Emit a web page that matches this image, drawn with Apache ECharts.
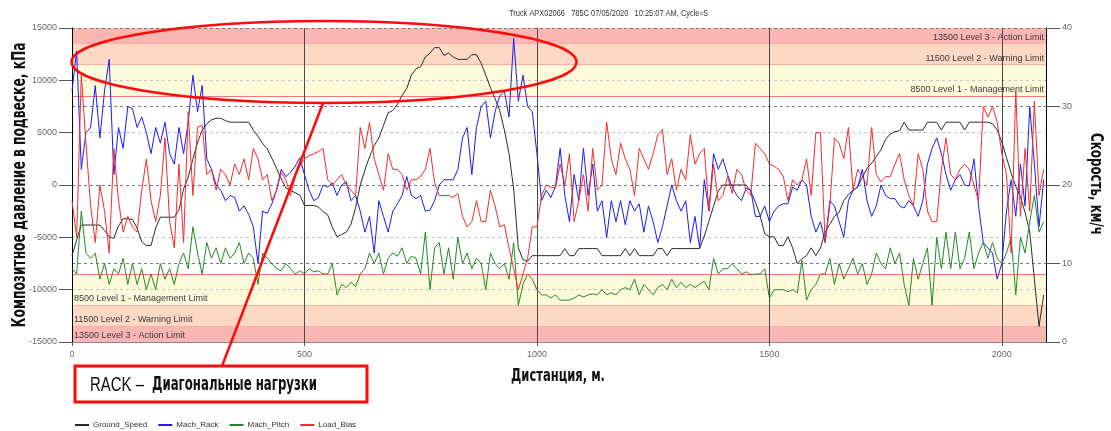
<!DOCTYPE html>
<html>
<head>
<meta charset="utf-8">
<script src="https://cdn.jsdelivr.net/npm/echarts/dist/echarts.min.js"></script>
<style>
  html, body { margin: 0; padding: 0; background: #ffffff; }
  #chart { width: 1111px; height: 431px; }
</style>
</head>
<body>
<div id="chart"></div>
<script>
// Samples are taken every 10 m along the haul road, starting at 0 m.
const STEP_M = 10;

// Ground speed, km/h (right axis)
const groundSpeed = [
  11, 13, 14.9, 14.9, 14.9, 14.9, 14.9, 14.2, 13.4, 13.2,
  14.8, 15.7, 15.7, 15.6, 14.5, 12.8, 12.3, 12.3, 14.5, 15.9,
  15.9, 15.9, 15.9, 16.8, 19.5, 21, 23.3, 25.4, 27, 27.8,
  28.3, 28.5, 28.5, 28.2, 28, 28, 28, 28, 28, 27,
  26.2, 25.3, 24.6, 23.4, 22.1, 20.8, 19.6, 19.3, 19, 18.7,
  17.4, 17.4, 17.4, 17.2, 16.6, 16.2, 14.6, 13.4, 13.7, 14,
  15, 17.1, 20, 21.9, 23.6, 25, 26, 27.6, 29.2, 29.5,
  30.3, 31.4, 32.3, 34, 34.8, 35.1, 36.3, 36.8, 37.5, 37.5,
  36.5, 36.8, 36.3, 36, 36, 36, 36.6, 36.6, 35.5, 34,
  32.4, 31, 29.5, 27, 24, 19.5, 12, 10.5, 10.3, 11,
  11, 11, 11, 11, 11, 11, 11.9, 11, 11, 11.9,
  11.9, 11.9, 11.9, 11.9, 11, 11, 11, 11, 11, 11.9,
  11, 11.9, 11, 11, 11, 11, 11.9, 11.9, 11, 11.9,
  11.9, 11.9, 11.9, 11.9, 11.9, 11.9, 13.5, 15.4, 17.3, 19.2,
  20, 20, 20, 20, 20, 20, 19.2, 17.8, 16.1, 13.8,
  13.4, 13.4, 12.3, 12.3, 13.4, 12, 10, 10.6, 11, 12,
  11, 12, 14, 15, 16, 16.5, 18, 18.8, 19.3, 19.8,
  21, 22.1, 22.8, 23.6, 24.5, 25.8, 26.5, 26.8, 26.9, 28,
  27, 27, 27, 27, 28, 28, 28, 27, 28, 28,
  28, 28, 27, 28, 28, 28, 28, 28, 27.8, 27,
  25.5, 23.5, 21.5, 19.8, 18.5, 16.5, 14, 8, 2, 6
];

// Suspension composite pressure, kPa (left axis)
const machRack = [
  9000, 12800, 1500, 5000, 5500, 9500, 4500, 9000, 12000, 1000,
  5500, 3500, 7500, 7300, 5500, 6500, 5000, 3000, 5500, 4000,
  6000, 3000, 2000, 5500, 3000, 6000, 10500, 7000, 9500, 2500,
  1500, 0, -500, -1500, -1000, -1200, -2500, -2000, -2800, -4000,
  -7500, -2500, -2700, -1800, -500, 1500, 800, 1200, 1800, 2600,
  1000, -500, -1500, -1200, 0, -200, 200, -1000, 0, 300,
  -1500, -1000, -2500, -4500, -3000, -6500, -1500, -3000, -4500, -2500,
  -1800, -1000, 800, -1000, -1300, -1000, -2500, -2400, -1500, 0,
  500, 500, 500, 1500, 4500, 5500, 1000, 5500, 7500, 8000,
  4500, 7000, 8500, 9000, 6500, 14000, 8000, 10500, 7500, 7000,
  3000, -1500, -500, -1200, -100, 3500, -1000, -3500, 1000, -1500,
  3500, -1000, 2000, -2500, -1500, -5000, -1500, -3500, -1500, -3800,
  -1500, -2500, -1800, -4500, -2000, -3500, -5500, -4000, -2000, 0,
  -1500, -2500, -1500, -5500, -3000, -6000, 500, -2500, 3000, 1500,
  2500, 1000, -200, -1000, -1500, -300, -500, -3000, -3000, -2000,
  -3500, -2500, -2000, -1800, -1800, -200, -500, 500, 0, -3000,
  -4500, -3500, -5500, -1500, -2000, -3500, -5000, -1500, -500, -200,
  1500, -1500, -3000, -2000, 0, -1000, -1300, -1300, -2000, -2200,
  -1500, -2000, -3000, -1500, 2000, 3500, 4500, 3000, 1000, -500,
  500, 1000, 0, -100, 2500, -2000, -5500, -6000, -6500, -9000,
  -7500, -2500, 500, -3000, 2000, -2000, 7500, 2000, -4000, 500
];

const machPitch = [
  -8000, -8500, -2500, -6500, -7000, -6500, -9000, -7500, -9500, -8000,
  -8500, -7000, -9500, -7500, -9500, -8000, -10000, -8500, -10000, -7500,
  -9000, -8000, -9500, -7500, -6500, -8000, -4000, -6500, -8500, -5500,
  -7000, -6000, -7500, -6000, -7000, -6500, -5500, -7500, -6500, -7000,
  -9500, -6500, -7000, -7500, -8000, -8200, -7500, -8000, -8500, -8200,
  -8500, -8000, -8300, -8200, -8500, -8500, -7500, -10500, -9500, -9800,
  -9300, -9700, -8500, -8000, -6500, -7500, -6500, -8500, -7000, -6500,
  -6800, -6000, -7500, -6800, -7000, -8500, -4500, -10000, -6000, -5500,
  -8500, -6000, -9000, -5000, -7500, -6500, -8000, -7000, -7500, -10000,
  -6500, -7500, -8000, -7500, -9000, -5500, -11500, -9500, -8500, -9000,
  -10000, -10500, -10500, -10800, -10500, -11000, -11000, -11000, -10800, -10500,
  -10700, -10500, -10400, -10500, -10000, -10500, -10300, -10500, -10000, -9800,
  -10000, -9000, -10500, -9500, -10000, -10500, -9800, -9500, -10000, -9000,
  -9800, -9300, -9800, -9500, -9800, -9500, -9200, -10000, -7000, -8500,
  -8000, -8000, -7500, -8000, -8500, -8300, -8600, -8500, -8500, -8000,
  -10800, -10000, -10000, -10000, -10200, -10000, -10300, -7200, -11000, -10000,
  -9500, -8500, -8500, -7000, -9500, -7500, -9000, -8000, -7000, -8500,
  -7500, -9500, -8500, -6500, -7500, -8000, -6000, -7500, -6500, -9500,
  -11500, -7000, -9000, -7500, -6000, -11500, -5000, -8000, -4500, -8000,
  -4500, -8000, -7000, -4500, -8000, -6500, -5500, -7000, -5500, -7000,
  -7500, -6500, -5000, -10500, -5000, -6500, -3500, -1000, -4500, -3500
];

const loadBias = [
  -1500, -5000, 10500, 4000, -2000, -5500, 0, -2500, -6500, 3500,
  -1500, -4500, -3000, -4000, -4500, -500, 2500, -1500, -3500, -1000,
  4500, -3500, -6000, 2000, -5500, 7000, -1000, 5500, 5700, 1000,
  1500, -500, 1500, 1000, 0, 2000, 1000, 2500, 500, 3500,
  2500, 500, 1000, -1500, -500, 1200, 500, -1000, 800, 1800,
  2500, 2800, 3000, 3200, 3500, 500, 0, 500, 1000, 0,
  -500, -1000, 5500, 3500, 6000, 2500, 1000, -500, 3000, 1500,
  1500, 1000, -500, 500, 500, 800, 1500, 3500, 200, -1000,
  -1000, -1000, -1200, -800, -3000, -4000, -3500, -1500, -3500, -3500,
  -500, -2000, -4000, -3800, -6000, -8000, -10000, -8500, -7000, -4000,
  -4000, -1000, 0, -200, -300, 2000, 0, 3000, -3500, -1500,
  1000, -2500, 3500, -500, 0, 6000, 2500, 1000, 4000, 2500,
  1500, -1000, 3500, 2500, 1500, 3000, 4800, 5300, 1000, 2500,
  -500, 1500, 500, 4800, 2000, 3000, 3500, -2500, 2000, -1500,
  -1000, 800, -800, 1500, 1000, -500, -1000, 4000, 3500, 3000,
  2000, 1800, 1500, 800, -1500, 500, 0, 500, 2500, -1000,
  5000, 5000, -5500, -2000, 4500, 4000, 2500, 5500, -500, 1500,
  800, 0, 5500, 1000, 300, 800, 800, 2000, 3000, 500,
  -1000, -2000, 3000, 1500, -2500, -3500, -3500, 1500, 4500, 1000,
  500, 1500, 2000, 1500, 0, -1500, 7500, 6500, 7500, 6000,
  3000, 1000, -6500, 9000, -3000, 3500, -2500, 8000, -1000, 1500
];

// Alarm thresholds, kPa
const limitLevels = [
  { level: 8500,  text: 'Level 1 - Management Limit', fill: 'rgb(254,251,221)' },
  { level: 11500, text: 'Level 2 - Warning Limit',    fill: 'rgb(253,216,197)' },
  { level: 13500, text: 'Level 3 - Action Limit',     fill: 'rgb(250,182,178)' }
];
const PRESSURE_MAX = 15000;

const chartTitle = 'Truck APX02066   785C 07/05/2020   10:25:07 AM, Cycle=5';
const leftName = 'Композитное давление в подвеске, кПа';
const rightName = 'Скорость, км/ч';
const bottomName = 'Дистанция, м.';
const noteLead = 'RACK –';
const noteText = 'Диагональные нагрузки';

const seriesNames = ['Ground_Speed', 'Mach_Rack', 'Mach_Pitch', 'Load_Bias'];
const seriesColors = ['#2b2b2b', '#1c1cf0', '#238a23', '#f42c2c'];

function pairs(values) {
  return values.map((v, i) => [i * STEP_M, v]);
}

const measureCtx = document.createElement('canvas').getContext('2d');
function textWidth(str, font) {
  measureCtx.font = font;
  return measureCtx.measureText(str).width;
}

// Alarm bands above and below zero
const bandAreas = [];
const bandLines = [];
limitLevels.forEach((b, i) => {
  const upper = i + 1 < limitLevels.length ? limitLevels[i + 1].level : PRESSURE_MAX;
  const label = b.level + ' ' + b.text;
  bandAreas.push([
    { yAxis: b.level, itemStyle: { color: b.fill },
      label: { show: true, position: 'insideBottomRight', formatter: label, distance: 2 } },
    { yAxis: upper }
  ]);
  bandAreas.push([
    { yAxis: -upper, itemStyle: { color: b.fill },
      label: { show: true, position: 'insideBottomLeft', formatter: label, distance: 2 } },
    { yAxis: -b.level }
  ]);
  const lineColor = i === 0 ? '#f27a74' : '#f6b0a6';
  bandLines.push({ yAxis: b.level, lineStyle: { color: lineColor } });
  bandLines.push({ yAxis: -b.level, lineStyle: { color: lineColor } });
});

const tickFont = 'Liberation Sans Narrow, Liberation Sans, Arial, sans-serif';
const boldFont = 'DejaVu Sans';

const chart = echarts.init(document.getElementById('chart'), null, { renderer: 'canvas' });

// Condensed headings: scale text horizontally to the wanted run length
const titleFont = '9px "Liberation Sans"';
const leftFont = 'bold 19px "' + boldFont + '"';
const rightFont = 'bold 17px "' + boldFont + '"';
const bottomFont = 'bold 17px "' + boldFont + '"';
const noteBoldFont = 'bold 20px "' + boldFont + '"';
const noteLeadFont = '20px "Liberation Sans"';
const titleScale = 199 / textWidth(chartTitle, titleFont);
const leftScale = 285 / textWidth(leftName, leftFont);
const rightScale = 102 / textWidth(rightName, rightFont);
const bottomScale = 94 / textWidth(bottomName, bottomFont);
const noteLeadScale = 54 / textWidth(noteLead, noteLeadFont);
const noteScale = 165 / textWidth(noteText, noteBoldFont);

const plainNumber = v => String(v);

chart.setOption({
  animation: false,
  backgroundColor: '#ffffff',
  legend: {
    data: seriesNames,
    left: 70, top: 416,
    icon: 'rect', itemWidth: 14, itemHeight: 2, itemGap: 11,
    textStyle: { fontSize: 8, color: '#333', fontFamily: tickFont, padding: [0, 0, 0, -1] }
  },
  grid: { left: 72, top: 28, width: 974, height: 314 },
  xAxis: {
    type: 'value', min: 0, max: 2095, interval: 500,
    axisLine: { show: true, onZero: false, lineStyle: { color: '#8a8a8a', width: 1 } },
    axisTick: { show: true, length: 4, lineStyle: { color: '#555' } },
    axisLabel: { fontSize: 9, color: '#666', fontFamily: tickFont, margin: 8,
      showMaxLabel: false, formatter: plainNumber },
    splitLine: { show: true, lineStyle: { color: '#4a4a4a', width: 1 } }
  },
  yAxis: [
    {
      type: 'value', position: 'left', min: -PRESSURE_MAX, max: PRESSURE_MAX, interval: 5000,
      axisLine: { show: true, onZero: false, lineStyle: { color: '#000', width: 1 } },
      axisTick: { show: true, length: 13, lineStyle: { color: '#555' } },
      axisLabel: { fontSize: 9, color: '#666', fontFamily: tickFont, margin: 15, formatter: plainNumber },
      splitLine: { show: true, lineStyle: { color: '#c4c4c4', type: [3, 3], width: 1 } }
    },
    {
      type: 'value', position: 'right', min: 0, max: 40, interval: 10,
      axisLine: { show: true, onZero: false, lineStyle: { color: '#000', width: 1 } },
      axisTick: { show: true, length: 14, lineStyle: { color: '#555' } },
      axisLabel: { fontSize: 9, color: '#666', fontFamily: tickFont, margin: 16, formatter: plainNumber },
      splitLine: { show: true, lineStyle: { color: '#7a7a7a', type: [3, 3], width: 1 } }
    }
  ],
  series: [
    {
      name: 'limits', type: 'line', yAxisIndex: 0, data: [], silent: true, z: -2,
      markArea: {
        silent: true, z: -2,
        label: { fontSize: 9, color: '#3a3a3a', fontFamily: tickFont },
        data: bandAreas
      },
      markLine: {
        silent: true, z: -1, symbol: 'none', animation: false,
        label: { show: false },
        lineStyle: { type: 'solid', width: 1 },
        data: bandLines
      }
    },
    {
      name: seriesNames[0], type: 'line', yAxisIndex: 1, data: pairs(groundSpeed),
      showSymbol: false, lineStyle: { width: 1, color: seriesColors[0] }, itemStyle: { color: seriesColors[0] }, z: 3
    },
    {
      name: seriesNames[1], type: 'line', yAxisIndex: 0, data: pairs(machRack),
      showSymbol: false, lineStyle: { width: 1, color: seriesColors[1] }, itemStyle: { color: seriesColors[1] }, z: 3
    },
    {
      name: seriesNames[2], type: 'line', yAxisIndex: 0, data: pairs(machPitch),
      showSymbol: false, lineStyle: { width: 1, color: seriesColors[2] }, itemStyle: { color: seriesColors[2] }, z: 3
    },
    {
      name: seriesNames[3], type: 'line', yAxisIndex: 0, data: pairs(loadBias),
      showSymbol: false, lineStyle: { width: 1, color: seriesColors[3] }, itemStyle: { color: seriesColors[3] }, z: 3
    }
  ],
  graphic: [
    {
      type: 'text', x: 509, y: 14, scaleX: titleScale,
      style: { text: chartTitle, font: titleFont, fill: '#333', align: 'left', verticalAlign: 'middle' }
    },
    {
      type: 'text', x: 20, y: 185, rotation: Math.PI / 2, scaleX: leftScale,
      style: { text: leftName, font: leftFont, fill: '#111', align: 'center', verticalAlign: 'middle' }
    },
    {
      type: 'text', x: 1095, y: 184, rotation: -Math.PI / 2, scaleX: rightScale,
      style: { text: rightName, font: rightFont, fill: '#111', align: 'center', verticalAlign: 'middle' }
    },
    {
      type: 'text', x: 558, y: 377, scaleX: bottomScale,
      style: { text: bottomName, font: bottomFont, fill: '#111', align: 'center', verticalAlign: 'middle' }
    },
    {
      type: 'ellipse', z: 100,
      shape: { cx: 324, cy: 62, rx: 252.5, ry: 41 },
      style: { fill: null, stroke: '#ff0a0a', lineWidth: 2.5 }
    },
    {
      type: 'line', z: 100,
      shape: { x1: 323, y1: 103, x2: 222, y2: 366 },
      style: { stroke: '#ff0a0a', lineWidth: 2.5 }
    },
    {
      type: 'rect', z: 100,
      shape: { x: 75, y: 366, width: 292, height: 36 },
      style: { fill: '#ffffff', stroke: '#ff0a0a', lineWidth: 3 }
    },
    {
      type: 'text', z: 101, x: 90, y: 385, scaleX: noteLeadScale,
      style: { text: noteLead, font: noteLeadFont, fill: '#111', align: 'left', verticalAlign: 'middle' }
    },
    {
      type: 'text', z: 101, x: 152, y: 385, scaleX: noteScale,
      style: { text: noteText, font: noteBoldFont, fill: '#111', align: 'left', verticalAlign: 'middle' }
    }
  ]
});
</script>
</body>
</html>
